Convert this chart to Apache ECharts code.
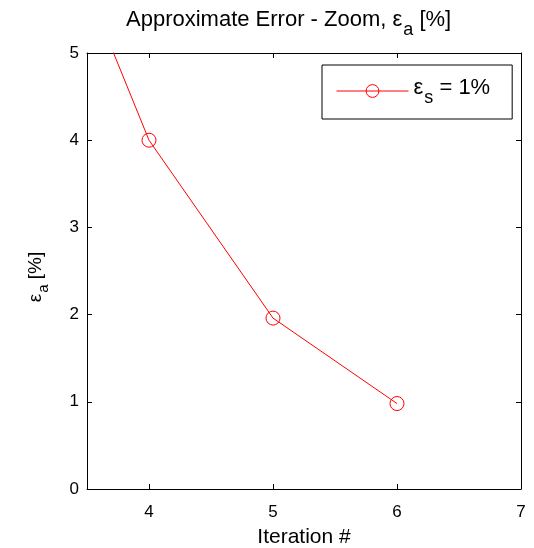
<!DOCTYPE html>
<html>
<head>
<meta charset="utf-8">
<script src="https://cdn.jsdelivr.net/npm/echarts@6/dist/echarts.min.js"></script>
<style>
  html, body { margin: 0; padding: 0; background: #fff; }
  #chart { width: 534px; height: 548px; }
</style>
</head>
<body>
<div id="chart"></div>
<script>
// iteration numbers and approximate relative error (%)
const iterations = [3, 4, 5, 6]
const errorValues = [7.5, 4.0, 1.96, 0.98]
const xTicks = [4, 5, 6, 7]
const yTicks = [0, 1, 2, 3, 4, 5]

const chart = echarts.init(document.getElementById('chart'))
const font = 'Liberation Sans, Arial, sans-serif'

const sub = (size) => ({
  e: { fontSize: size, fontFamily: font, fontWeight: 'normal', color: '#000', verticalAlign: 'top', lineHeight: size + 6 },
  s: { fontSize: size - 4, fontFamily: font, fontWeight: 'normal', color: '#000', verticalAlign: 'top', padding: [Math.round(size * 0.55), 0, 0, 1], lineHeight: size + 6 }
})

const xAxisBase = {
  type: 'value',
  min: 3.5,
  max: 7,
  interval: 1,
  axisLine: { onZero: false, lineStyle: { color: '#000', width: 1 } },
  axisTick: { inside: true, length: 5, lineStyle: { color: '#000' }, customValues: xTicks },
  splitLine: { show: false }
}
const yAxisBase = {
  type: 'value',
  min: 0,
  max: 5,
  interval: 1,
  axisLine: { onZero: false, lineStyle: { color: '#000', width: 1 } },
  axisTick: { inside: true, length: 5, lineStyle: { color: '#000' } },
  splitLine: { show: false }
}

const option = {
  backgroundColor: '#fff',
  animation: false,
  title: {
    text: '{e|Approximate Error - Zoom, ε}{s|a}{e| [%]}',
    left: 121,
    top: 4,
    textStyle: { fontWeight: 'normal', rich: sub(22) }
  },
  legend: {
    left: 322,
    top: 65,
    padding: [12, 22, 12, 14],
    borderColor: '#000',
    borderWidth: 1,
    itemWidth: 72,
    itemHeight: 16,
    itemGap: 0,
    lineStyle: { width: 1 },
    itemStyle: { borderWidth: 1 },
    formatter: () => '{e|ε}{s|s}{e| = 1%}',
    textStyle: { rich: sub(22) }
  },
  grid: { left: 87, right: 13, top: 53, bottom: 59, outerBoundsMode: 'none' },
  xAxis: [
    Object.assign({}, xAxisBase, {
      position: 'bottom',
      name: 'Iteration #',
      nameLocation: 'middle',
      nameGap: 38,
      nameTextStyle: { fontSize: 21, fontFamily: font, color: '#000' },
      axisLabel: {
        fontSize: 17, fontFamily: font, color: '#000', margin: 15,
        customValues: xTicks
      }
    }),
    Object.assign({}, xAxisBase, {
      position: 'top',
      axisLabel: { show: false }
    })
  ],
  yAxis: [
    Object.assign({}, yAxisBase, {
      position: 'left',
      name: '{e|ε}{s|a}{e| [%]}',
      nameLocation: 'middle',
      nameGap: 36,
      nameRotate: 90,
      nameTextStyle: { rich: sub(19), padding: [0, 12, 0, 0] },
      axisLabel: { fontSize: 17, fontFamily: font, color: '#000', margin: 8, customValues: yTicks }
    }),
    Object.assign({}, yAxisBase, {
      position: 'right',
      axisLabel: { show: false }
    })
  ],
  series: [
    {
      name: 'eps',
      type: 'line',
      data: iterations.map((x, i) => [x, errorValues[i]]),
      clip: true,
      symbol: 'circle',
      symbolSize: 14,
      showAllSymbol: true,
      lineStyle: { color: '#ff0000', width: 1 },
      itemStyle: { color: 'rgba(255,255,255,0)', borderColor: '#ff0000', borderWidth: 1 }
    }
  ]
}

chart.setOption(option)
</script>
</body>
</html>
